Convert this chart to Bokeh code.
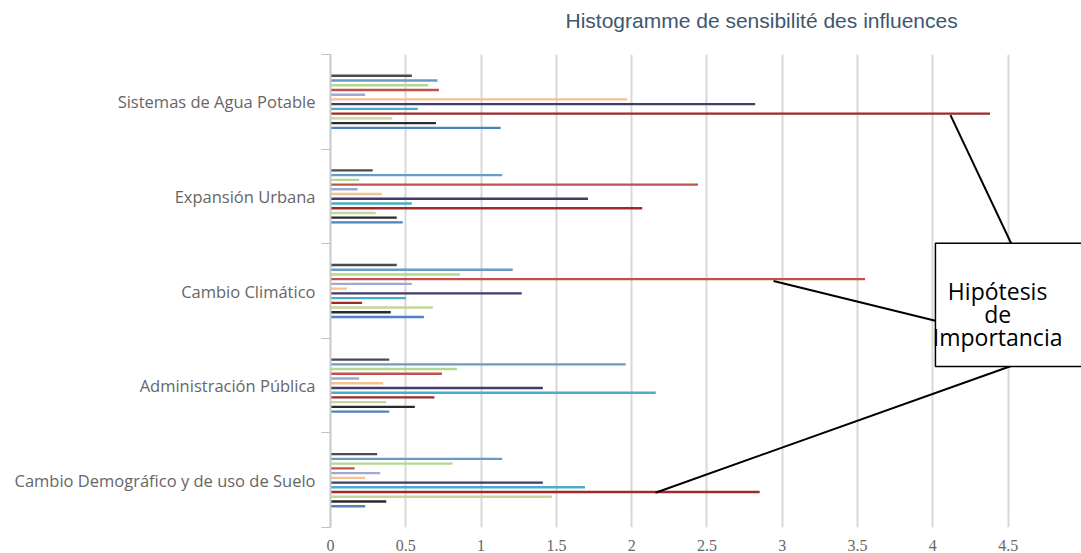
import numpy as np
from bokeh.plotting import figure
from bokeh.models import ColumnDataSource, FixedTicker, NumeralTickFormatter, Range1d, Title
from bokeh.core.properties import value
from bokeh.embed import file_html
from bokeh.resources import INLINE

title_text = "Histogramme de sensibilité des influences"
categories = ["Sistemas de Agua Potable", "Expansión Urbana", "Cambio Climático",
              "Administración Pública", "Cambio Demográfico y de uso de Suelo"]

s01 = [0.54, 0.28, 0.44, 0.39, 0.31]
s02 = [0.71, 1.14, 1.21, 1.96, 1.14]
s03 = [0.65, 0.19, 0.86, 0.84, 0.81]
s04 = [0.72, 2.44, 3.55, 0.74, 0.16]
s05 = [0.23, 0.18, 0.54, 0.19, 0.33]
s06 = [1.97, 0.34, 0.11, 0.35, 0.23]
s07 = [2.82, 1.71, 1.27, 1.41, 1.41]
s08 = [0.58, 0.54, 0.50, 2.16, 1.69]
s09 = [4.38, 2.07, 0.21, 0.69, 2.85]
s10 = [0.41, 0.30, 0.68, 0.37, 1.47]
s11 = [0.70, 0.44, 0.40, 0.56, 0.37]
s12 = [1.13, 0.48, 0.62, 0.39, 0.23]
series = [s01, s02, s03, s04, s05, s06, s07, s08, s09, s10, s11, s12]

x_ticks = [0, 0.5, 1, 1.5, 2, 2.5, 3, 3.5, 4, 4.5, 5]
note_lines = ["Hipótesis", "de", "Importancia"]

palette = ["#4a4a52", "#6b9ac4", "#b3d88e", "#c0504d", "#9ea9cf", "#f4c191",
           "#3f3d6b", "#4bacc6", "#9e2a2a", "#c3d69b", "#2b2b2b", "#4f81bd"]

n_cat = len(categories)
centers = np.arange(n_cat)[::-1].astype(float)  # top category highest

p = figure(width=1081, height=553, output_backend="svg", toolbar_location=None,
           x_range=Range1d(0, 4.987), y_range=Range1d(-0.5, n_cat - 0.5),
           min_border_left=330, min_border_right=0, min_border_top=54,
           min_border_bottom=23)
p.outline_line_color = None
p.background_fill_color = "white"

# spacer between frame and title
p.add_layout(Title(text=" ", text_font_size="1px", standoff=12), "above")

# title
p.title.text = title_text
p.title.align = "left"
p.title.offset = 235
p.title.vertical_align = "top"
p.title.text_color = "#3e576f"
p.title.text_font = "Liberation Sans"
p.title.text_font_size = "21px"
p.title.text_font_style = "normal"
p.title.standoff = 12

slot = 0.6 / len(series)
for i, (vals, col) in enumerate(zip(series, palette)):
    ys = centers + 0.3 - (i + 0.5) * slot
    src = ColumnDataSource(dict(y=ys, right=vals))
    p.hbar(y="y", right="right", left=0, height=0.025, source=src,
           fill_color=col, line_color=None)

# x axis
p.xaxis.ticker = FixedTicker(ticks=x_ticks)
p.xaxis.formatter = NumeralTickFormatter(format="0.[0]")
p.xaxis.axis_line_color = None
p.xaxis.major_tick_line_color = None
p.xaxis.minor_tick_line_color = None
p.xaxis.major_label_text_font = "Liberation Sans Narrow"
p.xaxis.major_label_text_font_size = "16px"
p.xaxis.major_label_text_color = "#666666"
p.xaxis.major_label_standoff = 6
p.xgrid.ticker = FixedTicker(ticks=x_ticks)
p.xgrid.grid_line_color = "#d8d8d8"
p.xgrid.grid_line_width = 2

# y axis
p.yaxis.ticker = FixedTicker(ticks=list(centers),
                             minor_ticks=list(np.arange(-0.5, n_cat, 1.0)))
p.yaxis.major_label_overrides = {float(c): categories[k] for k, c in enumerate(centers)}
p.yaxis.major_tick_line_color = None
p.yaxis.major_tick_out = 0
p.yaxis.major_tick_in = 0
p.yaxis.minor_tick_out = 9
p.yaxis.minor_tick_in = 0
p.yaxis.minor_tick_line_color = "#c0c0c0"
p.yaxis.axis_line_color = "#c8c8c8"
p.yaxis.axis_line_width = 2
p.yaxis.major_label_standoff = 6
p.yaxis.major_label_text_font = "Open Sans"
p.yaxis.major_label_text_font_size = "16.5px"
p.yaxis.major_label_text_color = "#666666"
p.ygrid.grid_line_color = None

# annotation: lines and box
p.segment(x0=[4.117, 2.942, 2.158], y0=[3.859, 2.105, -0.132],
          x1=[4.529, 4.017, 4.529], y1=[2.473, 1.685, 1.212],
          line_color="black", line_width=2)
p.quad(left=[4.017], right=[5.3], top=[2.504], bottom=[1.202],
       fill_color="white", line_color="black", line_width=1.5)
p.text(x=[4.43, 4.43, 4.43], y=[2.0, 1.758, 1.517], text=note_lines,
       text_align="center", text_baseline="middle",
       text_font=value("Open Sans"), text_font_size="23px", text_color="black")

open("out.html", "w").write(file_html(p, INLINE))
